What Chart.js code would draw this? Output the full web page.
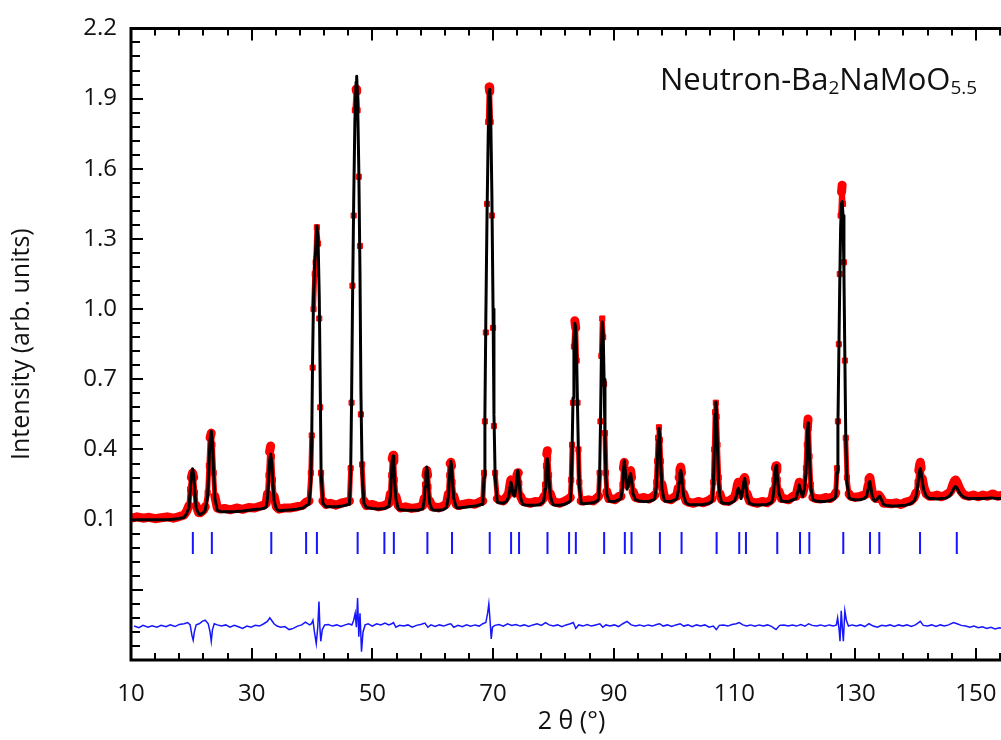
<!DOCTYPE html>
<html>
<head>
<meta charset="utf-8">
<script src="https://cdn.jsdelivr.net/npm/chart.js@4.4.1/dist/chart.umd.min.js"></script>
<style>
  html, body { margin: 0; padding: 0; overflow: hidden; background: #fff; }
  #wrap { position: relative; width: 1040px; height: 740px; }
  #phase { position: absolute; left: 660px; top: 63px; font: 31px 'Open Sans', sans-serif; line-height: 31px; color: #111; white-space: nowrap; }
  #phase sub { font-size: 19px; vertical-align: -4px; line-height: 0; }
</style>
</head>
<body>
<div id="wrap">
  <canvas id="chart-rietveld" width="1040" height="740"></canvas>
  <div id="phase">Neutron-Ba<sub>2</sub>NaMoO<sub>5.5</sub></div>
</div>
<script>
// 2theta grid (deg), calculated and observed intensity, one line per region
const twoTheta = [
    10.3, 11, 12, 13, 14, 15, 16, 17, 18, 18.8,
    19.2, 19.6, 19.8, 20.0, 20.2, 20.4, 20.6, 20.8, 21.2,
    21.5, 22.0,
    22.3, 22.7, 22.9, 23.1, 23.3, 23.5, 23.7, 23.9, 24.3,
    24.8, 25.5, 26.5, 27.5, 28.5, 29.5, 30.5, 31.5, 32.2,
    32.4, 32.62, 32.78, 32.96, 33.15, 33.34, 33.52, 33.72, 34.1,
    34.5, 35.5, 36.5, 37.5, 38.5, 39.0,
    39.5, 39.8, 39.95, 40.1, 40.25, 40.45, 40.6, 40.8, 41.0, 41.2, 41.35, 41.5, 41.8,
    42.3, 43, 44, 45, 46,
    46.2, 46.4, 46.55, 46.7, 46.9, 47.1, 47.3, 47.4, 47.55, 47.75, 47.95, 48.1, 48.3, 48.6,
    49, 50, 51, 52, 52.6,
    52.75, 52.98, 53.13, 53.28, 53.42, 53.56, 53.7, 53.9, 54.3,
    54.7, 55.5, 56.5, 57.5, 58.2,
    58.35, 58.58, 58.73, 58.88, 59.02, 59.16, 59.3, 59.5, 59.9,
    60.3, 61, 61.7, 62.2,
    62.35, 62.6, 62.75, 62.88, 63.0, 63.13, 63.28, 63.5, 63.9,
    64.3, 65, 66, 67, 68,
    68.3, 68.5, 68.65, 68.8, 69.0, 69.2, 69.35, 69.45, 69.6, 69.8, 70.0, 70.15, 70.35, 70.7,
    71.0, 71.7, 72.3,
    72.6, 72.8, 72.95, 73.1, 73.3, 73.55, 73.8, 73.95, 74.1, 74.2, 74.35, 74.55, 74.9,
    75.4, 76.2, 77, 77.8, 78.3,
    78.45, 78.62, 78.77, 78.9, 79.0, 79.12, 79.28, 79.5, 79.9,
    80.3, 81, 81.8, 82.6,
    82.8, 82.95, 83.1, 83.25, 83.4, 83.55, 83.7, 83.85, 84.0, 84.15, 84.3, 84.6,
    85.0, 85.8, 86.6, 87.3,
    87.5, 87.65, 87.8, 87.95, 88.1, 88.25, 88.4, 88.55, 88.7, 88.85, 89.2,
    89.5, 90.2, 90.9,
    91.2, 91.45, 91.6, 91.75, 91.95, 92.2, 92.45, 92.65, 92.8, 92.95, 93.2, 93.6,
    94.2, 95, 95.8, 96.6,
    96.8, 97.05, 97.2, 97.35, 97.5, 97.65, 97.8, 98.0, 98.4,
    98.8, 99.5, 100.2,
    100.45, 100.68, 100.83, 100.97, 101.1, 101.23, 101.38, 101.6, 102.0,
    102.4, 103.2, 104, 104.8, 105.6, 106.2,
    106.3, 106.5, 106.65, 106.8, 106.92, 107.05, 107.2, 107.4, 107.6, 107.9,
    108.3, 109, 109.7,
    110.0, 110.3, 110.5, 110.65, 110.85, 111.1, 111.35, 111.55, 111.7, 111.85, 112.1, 112.5,
    113, 113.8, 114.6, 115.4, 116.1,
    116.25, 116.48, 116.63, 116.78, 116.9, 117.03, 117.18, 117.4, 117.8,
    118.2, 119, 119.7,
    120.2, 120.5, 120.75, 121.0, 121.3, 121.6, 121.85, 122.0, 122.1, 122.2, 122.3, 122.45, 122.65, 123.0,
    123.5, 124.3, 125.1, 125.9, 126.6,
    126.8, 127.0, 127.15, 127.3, 127.45, 127.6, 127.75, 127.85, 128.0, 128.15, 128.3, 128.45, 128.65, 129.0,
    129.3, 130, 130.8, 131.5,
    131.9, 132.15, 132.3, 132.45, 132.6, 132.85, 133.2, 133.6, 133.9, 134.1, 134.35, 134.7,
    135.2, 136, 136.8, 137.6, 138.4, 139.2, 139.8,
    140.1, 140.35, 140.55, 140.7, 140.82, 140.95, 141.15, 141.4, 141.8, 142.3,
    142.9, 143.6, 144.3, 145, 145.6,
    145.9, 146.2, 146.45, 146.65, 146.9, 147.2, 147.6, 148.1,
    148.8, 149.6, 150.4, 151.2, 152, 152.8, 153.6, 154.4, 155.2, 156
];

const yCalc = [
    0.098, 0.1, 0.1, 0.1, 0.1, 0.1, 0.1, 0.102, 0.105, 0.11,
    0.125, 0.15, 0.22, 0.29, 0.318, 0.29, 0.21, 0.15, 0.125,
    0.122, 0.13,
    0.14, 0.2, 0.32, 0.44, 0.478, 0.43, 0.3, 0.19, 0.14,
    0.135, 0.134, 0.134, 0.135, 0.137, 0.14, 0.143, 0.146, 0.15,
    0.155, 0.19, 0.26, 0.35, 0.38, 0.34, 0.25, 0.18, 0.145,
    0.138, 0.14, 0.142, 0.145, 0.15, 0.16,
    0.165, 0.26, 0.45, 0.8, 1.05, 1.2, 1.25, 1.355, 1.3, 1.05, 0.7, 0.3, 0.17,
    0.155, 0.155, 0.155, 0.158, 0.165,
    0.165, 0.3, 0.6, 1.0, 1.45, 1.8, 1.97, 1.995, 1.9, 1.6, 1.15, 0.65, 0.3, 0.17,
    0.152, 0.148, 0.146, 0.148, 0.155,
    0.16, 0.2, 0.27, 0.35, 0.372, 0.34, 0.26, 0.19, 0.145,
    0.142, 0.14, 0.14, 0.14, 0.145,
    0.145, 0.18, 0.24, 0.3, 0.325, 0.3, 0.23, 0.17, 0.142,
    0.14, 0.14, 0.142, 0.15,
    0.16, 0.2, 0.27, 0.33, 0.35, 0.33, 0.26, 0.19, 0.152,
    0.15, 0.152, 0.155, 0.158, 0.165,
    0.165, 0.28, 0.55, 0.95, 1.4, 1.75, 1.93, 1.94, 1.85, 1.5, 1.0, 0.55, 0.28, 0.175,
    0.172, 0.17, 0.18,
    0.2, 0.235, 0.26, 0.245, 0.21, 0.2, 0.235, 0.28, 0.31, 0.3, 0.25, 0.195, 0.165,
    0.163, 0.162, 0.162, 0.165, 0.175,
    0.19, 0.23, 0.3, 0.35, 0.36, 0.34, 0.27, 0.2, 0.165,
    0.162, 0.162, 0.165, 0.175,
    0.18, 0.25, 0.4, 0.62, 0.85, 0.94, 0.92, 0.8, 0.58, 0.38, 0.24, 0.17,
    0.168, 0.17, 0.172, 0.18,
    0.19, 0.28, 0.5, 0.8, 0.945, 0.9, 0.7, 0.45, 0.28, 0.21, 0.18,
    0.178, 0.178, 0.185,
    0.19, 0.24, 0.31, 0.352, 0.3, 0.23, 0.25, 0.285, 0.297, 0.27, 0.21, 0.185,
    0.18, 0.178, 0.178, 0.185,
    0.19, 0.24, 0.33, 0.44, 0.49, 0.45, 0.34, 0.23, 0.18,
    0.178, 0.178, 0.185,
    0.19, 0.22, 0.26, 0.3, 0.31, 0.295, 0.25, 0.2, 0.17,
    0.165, 0.164, 0.164, 0.165, 0.168, 0.175,
    0.18, 0.24, 0.38, 0.55, 0.603, 0.55, 0.4, 0.26, 0.2, 0.172,
    0.17, 0.168, 0.175,
    0.18, 0.2, 0.225, 0.234, 0.22, 0.19, 0.22, 0.26, 0.276, 0.255, 0.2, 0.17,
    0.165, 0.163, 0.164, 0.165, 0.172,
    0.18, 0.21, 0.26, 0.315, 0.331, 0.315, 0.26, 0.21, 0.18,
    0.178, 0.178, 0.185,
    0.19, 0.22, 0.248, 0.22, 0.2, 0.23, 0.3, 0.4, 0.48, 0.513, 0.47, 0.36, 0.24, 0.185,
    0.18, 0.178, 0.178, 0.182, 0.19,
    0.2, 0.3, 0.5, 0.8, 1.1, 1.35, 1.45, 1.46, 1.4, 1.15, 0.8, 0.45, 0.26, 0.195,
    0.188, 0.185, 0.185, 0.19,
    0.2, 0.23, 0.255, 0.263, 0.24, 0.2, 0.18, 0.185, 0.196, 0.2, 0.185, 0.165,
    0.16, 0.158, 0.158, 0.16, 0.162, 0.168, 0.18,
    0.2, 0.24, 0.285, 0.31, 0.318, 0.3, 0.26, 0.225, 0.2, 0.19,
    0.19, 0.188, 0.19, 0.192, 0.2,
    0.21, 0.225, 0.238, 0.242, 0.235, 0.22, 0.205, 0.195,
    0.19, 0.19, 0.19, 0.19, 0.192, 0.192, 0.19, 0.19, 0.19, 0.19
];

const yObs = [
    0.108, 0.112, 0.106, 0.11, 0.104, 0.108, 0.112, 0.106, 0.113, 0.12,
    0.135, 0.16, 0.23, 0.28, 0.30, 0.28, 0.215, 0.16, 0.13,
    0.13, 0.14,
    0.155, 0.215, 0.33, 0.45, 0.47, 0.42, 0.3, 0.2, 0.15,
    0.145, 0.148, 0.142, 0.15, 0.144, 0.152, 0.15, 0.158, 0.165,
    0.17, 0.21, 0.29, 0.39, 0.415, 0.37, 0.27, 0.2, 0.155,
    0.145, 0.15, 0.15, 0.155, 0.162, 0.175,
    0.18, 0.3, 0.46, 0.75, 1.0, 1.15, 1.2, 1.35, 1.28, 0.96, 0.58, 0.3, 0.18,
    0.165, 0.17, 0.162, 0.172, 0.178,
    0.18, 0.32, 0.6, 1.1, 1.4, 1.85, 1.94, 1.93, 1.85, 1.566, 1.27, 0.55, 0.336, 0.18,
    0.16, 0.165, 0.155, 0.16, 0.17,
    0.175, 0.21, 0.29, 0.36, 0.375, 0.35, 0.27, 0.2, 0.16,
    0.15, 0.155, 0.148, 0.152, 0.158,
    0.16, 0.19, 0.25, 0.29, 0.31, 0.29, 0.24, 0.18, 0.155,
    0.155, 0.15, 0.158, 0.165,
    0.175, 0.21, 0.29, 0.34, 0.345, 0.33, 0.26, 0.2, 0.165,
    0.16, 0.165, 0.17, 0.166, 0.178,
    0.18, 0.3, 0.52, 0.9, 1.45, 1.8, 1.95, 1.93, 1.8, 1.4, 0.92, 0.5, 0.3, 0.19,
    0.185, 0.18, 0.2,
    0.215, 0.25, 0.27, 0.255, 0.225, 0.215, 0.25, 0.29, 0.3, 0.3, 0.255, 0.2, 0.18,
    0.175, 0.17, 0.178, 0.175, 0.19,
    0.2, 0.25, 0.33, 0.38, 0.395, 0.36, 0.29, 0.21, 0.18,
    0.175, 0.17, 0.178, 0.19,
    0.195, 0.27, 0.42, 0.6, 0.84, 0.95, 0.92, 0.78, 0.6, 0.4, 0.26, 0.18,
    0.18, 0.185, 0.18, 0.195,
    0.2, 0.3, 0.52, 0.8, 0.96, 0.88, 0.68, 0.47, 0.3, 0.22, 0.19,
    0.19, 0.185, 0.2,
    0.2, 0.25, 0.32, 0.345, 0.3, 0.25, 0.26, 0.3, 0.31, 0.28, 0.22, 0.195,
    0.19, 0.195, 0.188, 0.2,
    0.205, 0.26, 0.35, 0.45, 0.495, 0.44, 0.35, 0.25, 0.195,
    0.19, 0.185, 0.2,
    0.2, 0.235, 0.28, 0.315, 0.325, 0.3, 0.26, 0.21, 0.18,
    0.175, 0.17, 0.178, 0.172, 0.18, 0.19,
    0.19, 0.26, 0.4, 0.56, 0.6, 0.54, 0.42, 0.28, 0.21, 0.185,
    0.18, 0.178, 0.19,
    0.195, 0.22, 0.25, 0.26, 0.24, 0.21, 0.235, 0.275, 0.28, 0.26, 0.21, 0.18,
    0.175, 0.17, 0.178, 0.172, 0.185,
    0.19, 0.225, 0.27, 0.32, 0.33, 0.31, 0.27, 0.22, 0.19,
    0.19, 0.185, 0.2,
    0.2, 0.235, 0.26, 0.235, 0.21, 0.24, 0.32, 0.42, 0.5, 0.53, 0.49, 0.37, 0.25, 0.195,
    0.19, 0.188, 0.195, 0.19, 0.205,
    0.215, 0.32, 0.52, 0.85, 1.15, 1.4, 1.5, 1.53, 1.45, 1.2, 0.78, 0.45, 0.28, 0.21,
    0.2, 0.195, 0.2, 0.205,
    0.21, 0.245, 0.275, 0.28, 0.255, 0.215, 0.195, 0.19, 0.205, 0.2, 0.19, 0.17,
    0.17, 0.168, 0.172, 0.165, 0.175, 0.18, 0.195,
    0.215, 0.26, 0.31, 0.335, 0.345, 0.32, 0.275, 0.24, 0.21, 0.2,
    0.2, 0.205, 0.198, 0.205, 0.215,
    0.225, 0.25, 0.265, 0.27, 0.26, 0.24, 0.22, 0.205,
    0.2, 0.205, 0.198, 0.205, 0.2, 0.21, 0.2, 0.205, 0.198, 0.2
];

// Bragg reflection positions (deg)
const braggPos = [
    20.25, 23.4, 33.25, 39.02, 40.81, 47.56, 51.99, 53.56, 59.12, 63.2,
    69.45, 72.99, 74.31, 79.02, 82.6, 83.72, 88.41, 91.84, 92.95, 97.65,
    101.24, 107.05, 110.8, 111.91, 117.1, 120.87, 122.41, 128.04, 132.47, 134.01,
    140.76, 146.85
];
const braggRow = 0;

// difference curve (obs - calc), drawn with its offset
const diffCurve = [
    [10.5, -0.355], [11.3, -0.362], [12, -0.352], [12.8, -0.36], [13.5, -0.354], [14.3, -0.36],
    [15, -0.352], [15.8, -0.358], [16.5, -0.35], [17.3, -0.357], [18, -0.348], [18.8, -0.345],
    [19.4, -0.34], [19.8, -0.35], [20.1, -0.395], [20.3, -0.415], [20.5, -0.38], [20.8, -0.35],
    [21.3, -0.345], [21.8, -0.335], [22.3, -0.33], [22.8, -0.345], [23.1, -0.38], [23.3, -0.42],
    [23.5, -0.37], [23.8, -0.345], [24.3, -0.35], [25, -0.355], [25.7, -0.35], [26.4, -0.36],
    [27.1, -0.352], [27.8, -0.358], [28.5, -0.365], [29.2, -0.355], [29.9, -0.36], [30.6, -0.352],
    [31.3, -0.355], [32, -0.345], [32.6, -0.335], [33.0, -0.32], [33.3, -0.33], [33.7, -0.345],
    [34.2, -0.355], [34.8, -0.36], [35.5, -0.357], [36.2, -0.37], [36.9, -0.365], [37.6, -0.355],
    [38.3, -0.35], [38.9, -0.338], [39.3, -0.345], [39.6, -0.35], [39.9, -0.345], [40.15, -0.33],
    [40.4, -0.38], [40.7, -0.43], [40.95, -0.36], [41.15, -0.25], [41.3, -0.36], [41.45, -0.42],
    [41.7, -0.37], [42.1, -0.35], [42.7, -0.348], [43.4, -0.355], [44.1, -0.35], [44.8, -0.357],
    [45.5, -0.35], [46.1, -0.345], [46.6, -0.35], [46.9, -0.33], [47.15, -0.3], [47.35, -0.36],
    [47.55, -0.235], [47.75, -0.4], [47.95, -0.3], [48.2, -0.465], [48.45, -0.38], [48.8, -0.35],
    [49.3, -0.345], [50, -0.355], [50.7, -0.345], [51.4, -0.35], [52.1, -0.342], [52.7, -0.35],
    [53.2, -0.345], [53.5, -0.34], [53.9, -0.36], [54.5, -0.352], [55.2, -0.355], [55.9, -0.35],
    [56.6, -0.36], [57.3, -0.352], [58, -0.348], [58.7, -0.342], [59.2, -0.36], [59.7, -0.35],
    [60.4, -0.357], [61.1, -0.35], [61.8, -0.355], [62.5, -0.348], [63, -0.345], [63.5, -0.36],
    [64.2, -0.352], [64.9, -0.358], [65.6, -0.35], [66.3, -0.356], [67, -0.35], [67.7, -0.355],
    [68.3, -0.345], [68.8, -0.34], [69.1, -0.3], [69.3, -0.26], [69.5, -0.33], [69.7, -0.41],
    [69.9, -0.36], [70.3, -0.352], [71, -0.348], [71.7, -0.355], [72.4, -0.345], [73.1, -0.352],
    [73.8, -0.348], [74.5, -0.355], [75.2, -0.35], [75.9, -0.357], [76.6, -0.35], [77.3, -0.345],
    [78, -0.352], [78.7, -0.34], [79.3, -0.35], [80, -0.355], [80.7, -0.35], [81.4, -0.358],
    [82.1, -0.35], [82.8, -0.345], [83.3, -0.34], [83.7, -0.365], [84.2, -0.35], [84.9, -0.355],
    [85.6, -0.348], [86.3, -0.355], [87, -0.35], [87.7, -0.345], [88.2, -0.36], [88.7, -0.35],
    [89.4, -0.355], [90.1, -0.35], [90.8, -0.357], [91.5, -0.345], [92.2, -0.335], [92.9, -0.35],
    [93.6, -0.355], [94.3, -0.35], [95, -0.356], [95.7, -0.35], [96.4, -0.355], [97.1, -0.348],
    [97.6, -0.345], [98.2, -0.355], [98.9, -0.35], [99.6, -0.357], [100.3, -0.35], [101, -0.345],
    [101.6, -0.355], [102.3, -0.35], [103, -0.358], [103.7, -0.35], [104.4, -0.355], [105.1, -0.35],
    [105.8, -0.36], [106.5, -0.355], [107, -0.37], [107.5, -0.352], [108.2, -0.35], [108.9, -0.355],
    [109.6, -0.348], [110.3, -0.345], [110.8, -0.34], [111.4, -0.35], [112, -0.355], [112.7, -0.35],
    [113.4, -0.356], [114.1, -0.35], [114.8, -0.355], [115.5, -0.35], [116.2, -0.357], [116.9, -0.37],
    [117.5, -0.352], [118.2, -0.35], [118.9, -0.355], [119.6, -0.35], [120.3, -0.355], [121, -0.348],
    [121.7, -0.355], [122.3, -0.345], [122.9, -0.352], [123.6, -0.355], [124.3, -0.35], [125, -0.356],
    [125.7, -0.35], [126.4, -0.355], [126.9, -0.35], [127.1, -0.32], [127.35, -0.37], [127.5, -0.42],
    [127.7, -0.29], [127.9, -0.37], [128.05, -0.42], [128.3, -0.29], [128.55, -0.33], [128.9, -0.355],
    [129.5, -0.35], [130.2, -0.355], [130.9, -0.35], [131.6, -0.357], [132.3, -0.345], [133, -0.355],
    [133.7, -0.36], [134.4, -0.352], [135.1, -0.355], [135.8, -0.35], [136.5, -0.357], [137.2, -0.35],
    [137.9, -0.355], [138.6, -0.35], [139.3, -0.357], [140, -0.35], [140.8, -0.335], [141.3, -0.352],
    [142, -0.355], [142.7, -0.35], [143.4, -0.357], [144.1, -0.35], [144.8, -0.355], [145.5, -0.35],
    [146.3, -0.34], [146.9, -0.345], [147.6, -0.352], [148.3, -0.355], [149, -0.36], [149.7, -0.355],
    [150.4, -0.362], [151.1, -0.358], [151.8, -0.365], [152.5, -0.36], [153.2, -0.367], [153.9, -0.362],
    [154.6, -0.366], [155.3, -0.362], [156, -0.36]
];

const xTicks = [10, 30, 50, 70, 90, 110, 130, 150];
const yTicks = [0.1, 0.4, 0.7, 1.0, 1.3, 1.6, 1.9, 2.2];

const FONT = "'Open Sans', sans-serif";

// inward tick marks and the frame, drawn on top of the data
const frameTicks = {
    id: 'frameTicks',
    afterDatasetsDraw(chart) {
        const { ctx, chartArea: a, scales: { x, y } } = chart;
        ctx.save();
        ctx.strokeStyle = '#000';
        ctx.lineWidth = 2;
        ctx.beginPath();
        for (let i = 0; 10 + i * 4 <= 156; i++) {
            const px = Math.round(x.getPixelForValue(10 + i * 4));
            const len = i % 5 === 0 ? 12 : 7;
            ctx.moveTo(px, a.bottom); ctx.lineTo(px, a.bottom - len);
            ctx.moveTo(px, a.top); ctx.lineTo(px, a.top + len);
        }
        for (let i = 0; i <= 45; i++) {
            const py = Math.round(y.getPixelForValue(-0.5 + i * 0.06));
            const len = i % 5 === 0 ? 12 : 9;
            ctx.moveTo(a.left, py); ctx.lineTo(a.left + len, py);
        }
        ctx.stroke();
        ctx.lineWidth = 3;
        ctx.beginPath();
        ctx.moveTo(a.right + 5, a.top);
        ctx.lineTo(a.left, a.top);
        ctx.lineTo(a.left, a.bottom);
        ctx.lineTo(a.right + 5, a.bottom);
        ctx.stroke();
        ctx.restore();
    }
};

const steep = c => Math.abs(c.p1.y - c.p0.y) > 3 * Math.abs(c.p1.x - c.p0.x) + 6;

new Chart(document.getElementById('chart-rietveld').getContext('2d'), {
    type: 'line',
    data: {
        datasets: [
            {
                label: 'Calc',
                data: twoTheta.map((t, i) => ({ x: t, y: yCalc[i] })),
                borderColor: '#000',
                borderWidth: 3,
                borderJoinStyle: 'round',
                pointRadius: 0,
                tension: 0,
                order: 0
            },
            {
                label: 'Obs',
                data: twoTheta.map((t, i) => ({ x: t, y: yObs[i] })),
                borderColor: '#ff0000',
                borderWidth: 9,
                borderCapStyle: 'round',
                borderJoinStyle: 'round',
                pointStyle: 'rect',
                pointRadius: 3.6,
                pointBorderWidth: 1,
                pointBackgroundColor: '#ff0000',
                pointBorderColor: '#ff0000',
                tension: 0,
                segment: {
                    borderColor: c => (steep(c) && Math.abs(c.p1.y - c.p0.y) > 40 ? 'rgba(0,0,0,0)' : undefined),
                    borderWidth: c => (steep(c) ? 5 : undefined)
                },
                order: 1
            },
            {
                label: 'Bragg',
                data: braggPos.map(t => ({ x: t, y: braggRow })),
                showLine: false,
                pointStyle: 'line',
                pointRotation: 90,
                pointRadius: 11,
                pointBorderWidth: 2,
                pointBorderColor: '#1515ff',
                order: 2
            },
            {
                label: 'Diff',
                data: diffCurve.map(([t, d]) => ({ x: t, y: d })),
                borderColor: '#1515ff',
                borderWidth: 1.5,
                pointRadius: 0,
                tension: 0,
                order: 3
            }
        ]
    },
    options: {
        responsive: false,
        animation: false,
        events: [],
        layout: { padding: { top: 17, right: 28, left: 0, bottom: 0 } },
        plugins: {
            legend: { display: false },
            tooltip: { enabled: false }
        },
        scales: {
            x: {
                type: 'linear',
                min: 10,
                max: 156,
                grid: { display: false, drawTicks: false },
                border: { display: false },
                afterBuildTicks: s => { s.ticks = xTicks.map(v => ({ value: v })); },
                afterFit: s => { s.height = 80; },
                ticks: {
                    autoSkip: false,
                    maxRotation: 0,
                    padding: 20,
                    color: '#111',
                    font: { family: FONT, size: 24 }
                },
                title: {
                    display: true,
                    text: '2 θ (°)',
                    color: '#111',
                    font: { family: FONT, size: 25 },
                    padding: { top: 0, bottom: 3 }
                }
            },
            y: {
                min: -0.5,
                max: 2.2,
                grid: { display: false, drawTicks: false },
                border: { display: false },
                afterBuildTicks: s => { s.ticks = yTicks.map(v => ({ value: v })); },
                afterFit: s => { s.width = 131; },
                ticks: {
                    padding: 14,
                    color: '#111',
                    font: { family: FONT, size: 24 },
                    callback: v => v.toFixed(1)
                },
                title: {
                    display: true,
                    text: 'Intensity (arb. units)',
                    color: '#111',
                    font: { family: FONT, size: 25 },
                    padding: { top: 7, bottom: 0 }
                }
            }
        }
    },
    plugins: [frameTicks]
});
</script>
</body>
</html>
